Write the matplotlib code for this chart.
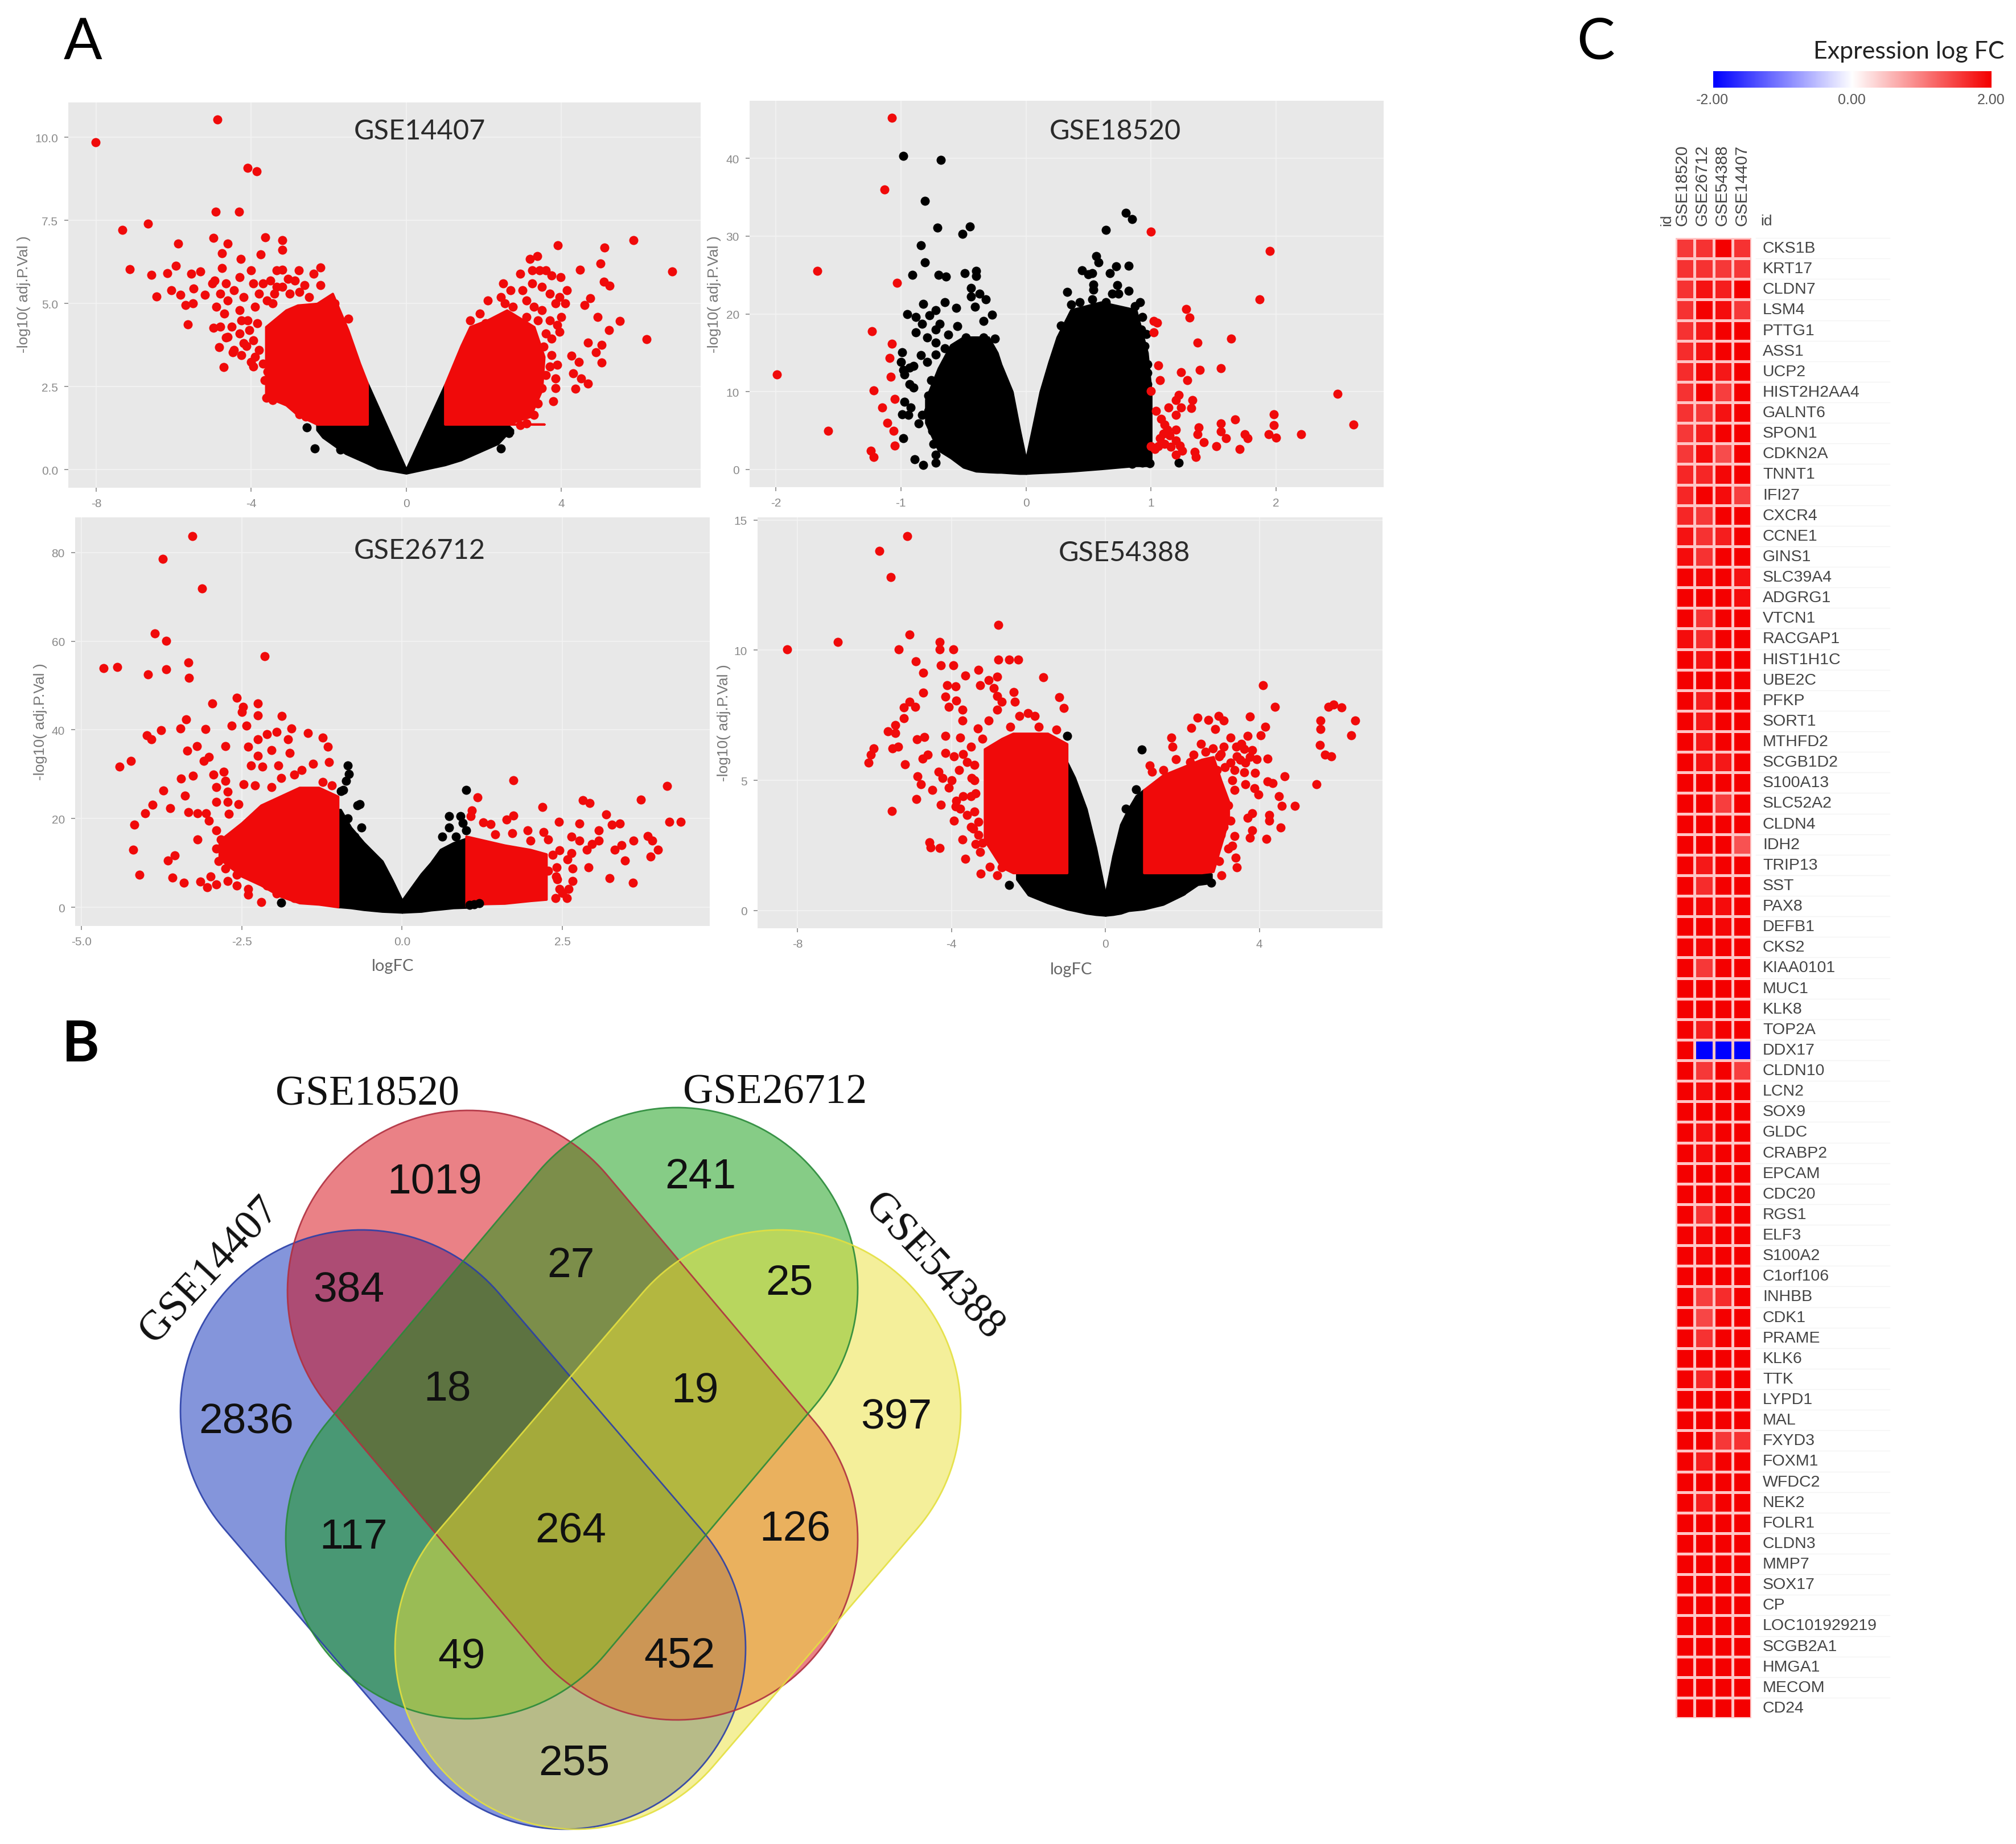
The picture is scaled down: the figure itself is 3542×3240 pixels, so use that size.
import numpy as np
import matplotlib
matplotlib.use('Agg')
import matplotlib.pyplot as plt
from matplotlib.colors import LinearSegmentedColormap
from matplotlib.patches import Polygon

W, H = 3542, 3241
DPI = 100
SANS = 'Liberation Sans'
SERIF = 'Liberation Serif'
HUM = 'Lato'

# ---------- Panel A data: (logFC, -log10 adj.P) ----------
gse14407_left_x = [-3.62, -3.1, -2.8, -2.3, -1.9, -1.5, -1.2, -1.0]
gse14407_left_hi = [4.3, 4.8, 4.95, 5.0, 5.3, 4.2, 3.2, 2.6]
gse14407_left_lo = [2.2, 1.95, 1.65, 1.37, 1.37, 1.37, 1.37, 1.37]
gse14407_right_x = [1.0, 1.42, 1.65, 2.1, 2.6, 3.3, 3.56, 3.5, 3.2, 2.6]
gse14407_right_hi = [2.55, 3.73, 4.3, 4.5, 4.8, 4.3, 3.4, 2.4, 1.6, 1.37]
gse14407_right_lo = [1.37] * 10
gse14407_black_x = [-2.3, -2.15, -1.56, -1.0, -0.73, 0, 1.0, 1.42, 2.37, 2.6, 2.75]
gse14407_black_hi = [1.37, 1.37, 1.37, 2.6, 1.9, 0, 2.55, 1.37, 1.37, 1.37, 1.2]
gse14407_black_lo = [1.2, 0.98, 0.49, 0.2, 0.05, -0.1, 0.15, 0.3, 0.79, 1.08, 1.1]
gse14407_black_pts = [(-2.57, 1.28), (-2.36, 0.64), (2.45, 0.64), (2.65, 1.1), (-1.7, 0.6)]
gse14407_red = [(-8.01, 9.85), (-4.87, 10.53), (-4.10, 9.08), (-3.86, 8.97), (-4.92, 7.76), (-4.31, 7.76),
    (-7.33, 7.22), (-6.67, 7.40), (-5.89, 6.80), (-4.98, 6.97), (-4.61, 6.81), (-3.64, 7.0), (-3.19, 6.91),
    (-3.19, 6.61), (-4.75, 6.51), (-3.75, 6.48), (-4.27, 6.34), (-7.13, 6.04), (-6.57, 5.87), (-5.95, 6.14),
    (-6.17, 5.91), (-5.55, 5.89), (-5.31, 5.97), (-4.75, 6.07), (-6.44, 5.21), (-6.06, 5.40), (-5.82, 5.26),
    (-5.69, 4.96), (-5.51, 5.01), (-5.63, 4.37), (-5.49, 5.45), (-4.98, 4.27), (-4.83, 3.68), (-4.65, 3.98),
    (-4.71, 3.09), (-4.48, 3.54), (-4.12, 3.73), (-4.0, 3.24), (-5.19, 5.26), (-4.95, 5.70), (-4.65, 5.6),
    (-4.30, 5.8), (-4.0, 6.0), (-3.35, 6.0), (-3.2, 6.01), (-2.77, 6.0), (-2.21, 6.09), (-2.39, 5.89),
    (-2.87, 5.7), (-3.7, 5.6), (-3.35, 5.5), (-2.63, 5.55), (-2.21, 5.55), (-3.61, 2.16), (-3.46, 2.46),
    (-3.58, 2.95), (-3.35, 2.75), (-3.1, 2.06), (-2.75, 1.67), (-5.0, 5.6), (-4.8, 5.3), (-4.6, 5.1),
    (-4.9, 4.9), (-4.7, 4.7), (-4.45, 5.4), (-4.2, 5.2), (-4.3, 4.8), (-4.1, 4.5), (-3.9, 4.9), (-3.8, 5.3),
    (-3.95, 5.6), (-4.5, 4.3), (-4.3, 4.1), (-4.05, 4.2), (-3.85, 4.4), (-4.2, 3.8), (-3.95, 3.9), (-3.8, 3.6),
    (-3.7, 3.2), (-3.6, 5.1), (-3.4, 5.3), (-3.2, 5.5), (-3.0, 5.3), (-3.45, 5.0), (-2.75, 5.35), (-2.5, 5.2),
    (-3.05, 5.75), (-3.5, 5.7), (-3.9, 3.4), (-4.8, 4.3), (-4.6, 4.0), (-4.25, 4.5), (-4.45, 3.6), (-4.25, 3.45),
    (-3.95, 3.1), (-3.65, 2.7), (-3.3, 2.4), (-3.0, 2.2), (-3.45, 2.1), (-2.85, 1.9), (-2.6, 1.6), (-1.85, 5.0),
    (-1.8, 4.6), (-1.7, 4.3), (-1.5, 4.55), (-1.55, 4.0),
    (3.92, 6.76), (5.86, 6.9), (5.12, 6.68), (6.87, 5.97), (5.01, 6.21), (4.49, 6.01), (5.11, 5.65), (5.25, 5.53),
    (5.52, 4.47), (6.2, 3.93), (5.23, 4.2), (4.94, 4.6), (4.75, 5.16), (4.61, 4.96), (5.05, 3.75), (4.69, 3.83),
    (4.89, 3.54), (5.05, 3.22), (4.27, 3.44), (4.45, 3.24), (4.31, 2.9), (4.51, 2.75), (4.69, 2.6), (4.37, 2.44),
    (3.86, 2.46), (3.8, 2.06), (4.15, 5.4), (3.98, 5.8), (3.38, 6.43), (3.2, 6.34), (1.65, 4.5), (1.7, 4.1),
    (1.9, 4.7), (2.1, 5.1), (2.05, 4.4), (2.5, 5.6), (2.45, 5.2), (2.55, 5.0), (2.7, 5.4), (2.75, 4.9), (2.95, 5.9),
    (3.0, 5.4), (3.1, 5.1), (3.25, 5.6), (3.25, 6.0), (3.45, 6.0), (3.6, 6.0), (3.75, 5.85), (3.5, 5.5), (3.3, 4.9),
    (3.5, 4.8), (3.7, 5.3), (3.85, 5.0), (3.95, 5.2), (4.0, 4.6), (3.9, 4.35), (3.95, 4.15), (3.7, 4.5), (3.6, 4.1),
    (3.75, 3.95), (3.55, 3.7), (3.75, 3.45), (3.9, 3.15), (3.7, 3.1), (3.85, 2.75), (3.6, 2.85), (3.5, 2.45),
    (3.4, 2.0), (3.3, 1.65), (3.1, 1.4), (2.95, 1.35), (3.4, 4.5), (3.1, 4.6), (2.8, 4.5), (4.1, 5.0)]

gse18520_left_x = [-0.80, -0.70, -0.60, -0.50, -0.40, -0.30, -0.23, -0.20, -0.11, -0.05, 0]
gse18520_left_hi = [9, 13, 16, 17, 17, 17, 15, 13.5, 10, 5, 1.2]
gse18520_left_lo = [6, 2.5, 1.5, 0.3, -0.2, -0.3, -0.35, -0.35, -0.45, -0.5, -0.5]
gse18520_right_x = [0, 0.05, 0.115, 0.185, 0.25, 0.36, 0.6, 0.88, 0.97, 1.0]
gse18520_right_hi = [1.2, 5, 10, 13.8, 17, 20.5, 21.5, 20.5, 15, 10]
gse18520_right_lo = [-0.5, -0.45, -0.4, -0.35, -0.3, -0.2, 0.1, 0.5, 0.5, 0.7]
gse18520_black_pts = [(-0.98, 40.3), (-0.68, 39.8), (-0.81, 34.5), (-0.71, 31.1), (-0.45, 31.2), (-0.51, 30.3),
    (-0.84, 28.8), (-0.81, 26.6), (-0.91, 25), (-0.70, 25), (-0.64, 24.8), (-0.49, 25.2), (-0.40, 25.5), (-0.40, 24.9),
    (-0.44, 23.3), (-0.44, 22.2), (-0.37, 22.6), (-0.32, 21.9), (-0.65, 21.5), (-0.82, 21.3), (-0.95, 20), (-0.72, 20.5),
    (-0.56, 20.8), (-0.41, 20.9), (-0.77, 19.8), (-0.88, 19.6), (-0.69, 18.7), (-0.55, 18.4), (-0.34, 19.1), (-0.27, 19.9),
    (-0.83, 18.7), (-0.88, 17.6), (-0.72, 18), (-0.79, 17), (-0.72, 16.3), (-0.25, 16.8), (-0.62, 17.3), (-0.48, 17),
    (-0.34, 17), (-0.99, 15.1), (-0.84, 14.7), (-0.79, 13.8), (-1.0, 13.8), (-0.93, 13.1), (-0.98, 12.8), (-0.9, 13.3),
    (-0.97, 12.2), (-0.76, 11.5), (-0.93, 11), (-0.9, 10.5), (-0.97, 8.7), (-0.92, 8), (-0.99, 7.1), (-0.94, 7),
    (-0.86, 5.9), (-0.83, 7), (-0.98, 4), (-0.89, 1.3), (-0.82, 0.6), (-0.72, 1.9), (-0.72, 0.9), (-0.63, 2.4),
    (-0.74, 3.3), (-0.78, 9.5), (-0.72, 14.8), (-0.65, 15.6), (-0.55, 15.8), (-0.78, 7.5), (-0.75, 5),
    (0.80, 33), (0.85, 32.2), (0.64, 30.8), (0.56, 27.4), (0.58, 26.6), (0.45, 25.6), (0.50, 25.1), (0.53, 25.2),
    (0.67, 25.2), (0.72, 26.1), (0.82, 26.2), (0.54, 23.8), (0.54, 23.1), (0.73, 23.7), (0.82, 23), (0.33, 22.8),
    (0.69, 22.6), (0.74, 22.6), (0.91, 21.5), (0.87, 21), (0.93, 19.6), (0.96, 17.4), (0.36, 21.2), (0.43, 21.5),
    (0.53, 21.9), (0.64, 21.5), (0.74, 20.5), (0.85, 19.8), (0.92, 18), (0.95, 15.9), (0.97, 13.5), (0.97, 12.4),
    (0.97, 11), (0.95, 8.2), (0.85, 0.7), (0.93, 0.9), (0.99, 0.8), (1.22, 0.9), (0.28, 18.5)]
gse18520_red = [(1.0, 30.6), (1.95, 28.1), (1.87, 21.9), (1.28, 20.6), (1.31, 19.5), (1.02, 19.1), (1.05, 18.9),
    (1.02, 17.6), (1.64, 16.8), (1.37, 16.3), (1.06, 13.4), (1.56, 13), (1.39, 12.8), (1.24, 12.5), (1.29, 11.5),
    (1.07, 11.5), (1.0, 10.1), (2.49, 9.7), (1.22, 9.6), (1.2, 8.9), (1.33, 8.9), (1.32, 7.9), (1.14, 8), (1.24, 8),
    (1.2, 7), (1.04, 7.5), (1.98, 7.1), (1.67, 6.4), (1.56, 5.9), (2.62, 5.8), (1.98, 5.7), (1.38, 5.4), (1.11, 5.8),
    (1.13, 5.1), (1.2, 5.1), (1.56, 4.9), (2.2, 4.5), (1.94, 4.5), (1.75, 4.5), (1.37, 4.5), (2.0, 4.1), (1.6, 4),
    (1.77, 4), (1.42, 3.5), (1.07, 4), (1.2, 3.7), (1.52, 3), (1.23, 3.1), (1.06, 3), (1.0, 3), (1.11, 3.3), (1.71, 2.6),
    (1.35, 2.3), (1.25, 2.4), (1.2, 1.9), (1.36, 1.6), (1.08, 6.5), (1.15, 4.4), (1.1, 4.6), (1.03, 2.6), (1.16, 2.9),
    (-1.07, 45.2), (-1.13, 36), (-1.67, 25.5), (-1.03, 24), (-1.23, 17.8), (-1.07, 16.2), (-1.09, 14.3), (-1.99, 12.2),
    (-1.08, 11.9), (-1.22, 10.2), (-1.05, 9.1), (-1.15, 8), (-1.11, 6), (-1.58, 5), (-1.06, 5), (-1.05, 3.1), (-1.24, 2.4),
    (-1.22, 1.6)]

gse26712_left_x = [-2.85, -2.5, -2.2, -1.9, -1.6, -1.3, -1.0]
gse26712_left_hi = [15, 19, 23, 25, 27, 27, 25]
gse26712_left_lo = [11, 7, 5, 2.5, 1, 0.7, 0.1]
gse26712_right_x = [1.0, 1.3, 1.6, 2.0, 2.25]
gse26712_right_hi = [16, 15, 14, 13, 12]
gse26712_right_lo = [0.3, 0.8, 0.9, 1.5, 1.8]
gse26712_black_lx = [-1.0, -0.96, -0.8, -0.6, -0.31, -0.15, 0]
gse26712_black_lhi = [22, 22, 18, 14.6, 10.4, 6, 1.5]
gse26712_black_llo = [0.1, 0.1, -0.1, -0.5, -0.9, -1, -1.1]
gse26712_black_rx = [0, 0.15, 0.3, 0.45, 0.6, 0.8, 1.0]
gse26712_black_rhi = [1.5, 4.5, 7.5, 10, 13, 14.5, 15.5]
gse26712_black_rlo = [-1.1, -1, -0.9, -0.6, -0.4, -0.1, 0]
gse26712_black_pts = [(-0.85, 32), (-0.83, 30), (-0.87, 28.5), (-0.92, 26.4), (-0.95, 26.2), (-0.7, 23), (-0.66, 23.2),
    (-0.63, 18), (-0.74, 16), (-0.85, 20), (1, 26.4), (0.73, 20.5), (0.91, 20.5), (0.73, 18), (0.63, 16), (0.84, 16),
    (1, 17.4), (0.95, 19), (1.05, 0.5), (1.12, 0.7), (1.2, 0.9), (-1.89, 1)]
gse26712_red = [(-3.27, 83.7), (-3.73, 78.5), (-3.12, 71.9), (-3.86, 61.7), (-3.68, 60.1), (-2.14, 56.6), (-4.66, 53.9),
    (-4.44, 54.2), (-3.33, 55.2), (-3.68, 53.6), (-3.96, 52.5), (-3.32, 51.7), (-2.96, 45.9), (-2.58, 47.3), (-2.25, 45.9),
    (-2.48, 45.2), (-2.5, 44), (-2.25, 43.3), (-1.88, 43.1), (-3.37, 42.3), (-3.46, 40.3), (-3.07, 40.2), (-3.76, 39.9),
    (-2.66, 41), (-2.43, 41), (-1.73, 40.3), (-1.47, 39.3), (-3.98, 38.8), (-3.91, 37.9), (-2.25, 37.9), (-2.11, 39),
    (-1.96, 39.5), (-1.78, 37.9), (-1.24, 38.3), (-1.16, 36.2), (-2.76, 36.3), (-3.2, 36.3), (-3.35, 35.3), (-4.23, 33),
    (-4.41, 31.7), (-3.01, 33.9), (-3.09, 33), (-2.4, 36.2), (-2.25, 34.1), (-2.36, 32), (-2.18, 31.7), (-2.04, 35.5),
    (-1.75, 34.8), (-1.93, 32), (-1.57, 31), (-1.39, 32.3), (-1.14, 32.7), (-3.45, 29), (-3.26, 29.7), (-2.94, 29.9),
    (-2.78, 30.6), (-2.76, 28.5), (-2.9, 27.1), (-2.72, 26.1), (-3.72, 26.3), (-3.39, 25.2), (-3.89, 23.1), (-3.62, 22.3),
    (-4.01, 21.2), (-3.33, 21.4), (-3.19, 21.2), (-3.06, 21.2), (-2.9, 23.7), (-2.72, 23.7), (-2.7, 21.1), (-2.55, 23.3),
    (-3.01, 19.5), (-4.18, 18.6), (-3.19, 15.3), (-4.19, 13), (-3.55, 11.7), (-3.65, 10.6), (-4.1, 7.3), (-3.58, 6.7),
    (-3.4, 5.6), (-3.15, 5.8), (-3.04, 4.5), (-2.99, 7), (-2.9, 5.2), (-2.2, 1.25), (-2.4, 2.8), (-2.47, 27.8),
    (-2.29, 27.5), (-2.04, 27.1), (-1.89, 29.2), (-1.68, 29.9), (-1.24, 28.2), (-1.1, 27.5), (-2.9, 17.4), (-2.83, 15.3),
    (-2.9, 13.2), (-2.86, 10.4), (-2.76, 8.7), (-2.72, 5.9), (-2.58, 7.3), (-2.58, 4.9), (-2.4, 4.2), (-2.14, 7),
    (-2.11, 4.9), (-1.96, 3.1), (-1.68, 2.1),
    (4.13, 27.3), (1.74, 28.7), (1.18, 24.8), (3.73, 24.3), (2.82, 24.1), (2.93, 23.5), (2.19, 22.6), (1.09, 21.9),
    (1.07, 20.5), (3.18, 20.9), (1.74, 20.7), (1.63, 19.8), (4.17, 19.3), (4.35, 19.3), (2.45, 19.3), (2.77, 18.9),
    (3.4, 18.9), (3.27, 18.6), (1.27, 19.1), (1.38, 18.8), (3.07, 17.3), (1.72, 16.7), (1.96, 17.4), (2.21, 17), (2.64, 16),
    (3.83, 16.1), (2.77, 15), (3.61, 15), (3.9, 15), (3.07, 15), (2.96, 14.3), (3.42, 14), (3.32, 13), (2.88, 13), (3.99, 13),
    (2.46, 12.9), (2.64, 12.2), (3.88, 11.5), (3.48, 10.6), (2.58, 10.8), (2.91, 9), (2.66, 8.7), (2.41, 9), (3.24, 6.6),
    (3.6, 5.6), (2.66, 5.9), (2.42, 6.3), (2.6, 4.2), (2.39, 2.1), (2.57, 2.1), (2.46, 4.2), (2.28, 8.3), (2.35, 11.8),
    (2.28, 15.3), (1.45, 16.5), (2.0, 15), (2.4, 7), (2.5, 3.2)]

gse54388_left_x = [-3.14, -2.69, -2.4, -1.9, -1.5, -1.0]
gse54388_left_hi = [6.2, 6.6, 6.8, 6.8, 6.8, 6.4]
gse54388_left_lo = [2.7, 1.66, 1.45, 1.45, 1.45, 1.45]
gse54388_right_x = [1.0, 1.5, 2.0, 2.5, 2.8, 3.0, 3.2]
gse54388_right_hi = [4.63, 5.2, 5.5, 5.8, 5.9, 5.0, 4.2]
gse54388_right_lo = [1.45, 1.45, 1.45, 1.45, 1.5, 2.5, 3.5]
gse54388_black_lx = [-2.3, -2.0, -1.5, -1.0, -0.8, -0.5, -0.25, 0]
gse54388_black_lhi = [1.45, 1.45, 1.45, 5.7, 5.1, 3.9, 2.4, 0.6]
gse54388_black_llo = [1.2, 0.6, 0.3, 0.06, 0.0, -0.1, -0.15, -0.18]
gse54388_black_rx = [0, 0.2, 0.4, 0.6, 0.8, 1.0, 1.5, 2.0, 2.4, 2.75]
gse54388_black_rhi = [0.6, 2.1, 3.3, 3.9, 4.4, 4.63, 1.45, 1.45, 1.45, 1.4]
gse54388_black_rlo = [-0.18, -0.15, -0.1, 0, 0.03, 0.06, 0.24, 0.6, 1.0, 1.07]
gse54388_black_pts = [(-2.5, 0.98), (0.95, 6.19), (0.79, 4.65), (0.53, 3.91), (-1.0, 6.7), (2.75, 1.07), (2.0, 0.75)]
gse54388_red = [(-5.15, 14.38), (-5.88, 13.8), (-5.58, 12.81), (-2.78, 10.97), (-5.09, 10.59), (-6.96, 10.32), (-8.27, 10.04),
    (-5.37, 10.02), (-4.31, 10.32), (-4.31, 10.02), (-3.95, 10.02), (-4.93, 9.58), (-2.78, 9.64), (-2.5, 9.64), (-2.27, 9.64),
    (-4.28, 9.41), (-3.95, 9.41), (-3.3, 9.25), (-4.74, 9.13), (-3.64, 9.02), (-2.81, 8.99), (-1.62, 8.96), (-3.03, 8.84),
    (-3.26, 8.66), (-4.11, 8.66), (-3.9, 8.6), (-2.9, 8.54), (-4.73, 8.36), (-2.38, 8.4), (-2.81, 8.24), (-4.16, 8.22),
    (-3.88, 8.07), (-1.2, 8.19), (-2.69, 8.01), (-2.35, 8.01), (-5.09, 8.01), (-5.24, 7.81), (-4.95, 7.83), (-4.07, 7.83),
    (-1.09, 7.77), (-3.71, 7.71), (-2.81, 7.71), (-2.01, 7.59), (-2.24, 7.47), (-1.84, 7.47), (-5.24, 7.38), (-3.71, 7.3),
    (-3.03, 7.3), (-5.46, 7.12), (-5.66, 6.88), (-5.46, 6.82), (-3.31, 7), (-2.47, 7.06), (-1.73, 7.06), (-1.28, 6.94),
    (-4.16, 6.7), (-3.77, 6.64), (-4.9, 6.58), (-4.71, 6.67), (-6.03, 6.23), (-5.54, 6.23), (-5.38, 6.29), (-6.09, 5.99),
    (-6.16, 5.67), (-4.16, 6.05), (-4.62, 5.99), (-4.75, 5.84), (-3.94, 5.93), (-5.21, 5.61), (-4.33, 5.34), (-4.88, 5.16),
    (-4.79, 4.86), (-4.24, 5.1), (-4.5, 4.63), (-4.07, 4.72), (-4.91, 4.29), (-5.55, 3.83), (-4.28, 4.06), (-3.88, 4.21),
    (-3.77, 3.91), (-3.94, 3.44), (-3.43, 3.14), (-4.58, 2.61), (-4.54, 2.43), (-4.31, 2.41), (-3.71, 2.73), (-3.37, 2.55),
    (-3.64, 1.99), (-3.24, 1.42), (-3.01, 1.68), (-2.81, 1.36), (-3.26, 2.25), (-2.69, 1.66), (-3.6, 5.7), (-3.48, 5.1),
    (-3.37, 4.5), (-3.6, 3.68), (-3.5, 6.3), (-3.4, 5.6), (-3.2, 6.6), (-3.4, 5), (-3.5, 4.4), (-3.4, 3.8), (-3.3, 3.4),
    (-3.5, 3.2), (-3.7, 4.4), (-3.9, 4), (-4, 5), (-3.8, 5.4), (-3.3, 2.9), (-3.7, 6.0), (-3.2, 2.6),
    (4.1, 8.66), (4.41, 7.83), (3.76, 7.45), (2.4, 7.41), (2.68, 7.33), (2.94, 7.47), (3.08, 7.3), (2.23, 7.02), (2.85, 6.98),
    (4.15, 7.06), (4.04, 6.74), (1.72, 6.64), (1.74, 6.29), (2.48, 6.41), (3.25, 6.64), (3.7, 6.7), (3.53, 6.41), (2.79, 6.23),
    (3.08, 6.29), (3.81, 6.17), (3.93, 5.81), (4.21, 5.84), (3.42, 5.93), (3.64, 5.69), (3.25, 5.69), (2.96, 5.93), (2.29, 5.99),
    (1.15, 5.58), (1.21, 5.34), (1.83, 5.81), (3.89, 5.28), (4.66, 5.16), (4.21, 4.96), (4.34, 4.9), (3.64, 4.86), (3.36, 4.63),
    (3.87, 4.69), (3.98, 4.45), (3.02, 4.51), (4.51, 4.39), (4.58, 4.01), (4.92, 4.01), (3.19, 4.03), (3.81, 3.74), (4.26, 3.68),
    (4.26, 3.44), (3.25, 3.44), (3.7, 3.56), (3.08, 3.2), (4.55, 3.18), (3.81, 3.08), (3.76, 2.79), (3.36, 2.85), (4.19, 2.76),
    (3.3, 2.49), (3.19, 2.37), (3.39, 2.02), (3.42, 1.66), (2.96, 1.9), (3.02, 1.36), (3.4, 6.3), (3.6, 6.2), (3.75, 5.9),
    (3.5, 5.8), (3.35, 5.4), (3.1, 5.5), (2.9, 5.4), (3.0, 6.0), (3.6, 5.3), (2.6, 6.1), (2.2, 5.7), (1.5, 5.4), (3.3, 5.0),
    (3.1, 3.7), (3.0, 2.9),
    (5.79, 7.83), (5.93, 7.92), (6.13, 7.81), (6.49, 7.3), (6.39, 6.74), (5.59, 7.3), (5.59, 6.98), (5.57, 6.35), (5.71, 5.99),
    (5.87, 5.93), (5.49, 4.86)]

# ---------- Panel B data ----------
venn_sets = ['GSE14407', 'GSE18520', 'GSE26712', 'GSE54388']
venn_counts = [1019, 241, 384, 27, 25, 2836, 18, 19, 397, 117, 264, 126, 49, 452, 255]

# ---------- Panel C data ----------
heat_columns = ['GSE18520', 'GSE26712', 'GSE54388', 'GSE14407']
heat_genes = ['CKS1B', 'KRT17', 'CLDN7', 'LSM4', 'PTTG1', 'ASS1', 'UCP2', 'HIST2H2AA4', 'GALNT6', 'SPON1', 'CDKN2A', 'TNNT1',
    'IFI27', 'CXCR4', 'CCNE1', 'GINS1', 'SLC39A4', 'ADGRG1', 'VTCN1', 'RACGAP1', 'HIST1H1C', 'UBE2C', 'PFKP', 'SORT1', 'MTHFD2',
    'SCGB1D2', 'S100A13', 'SLC52A2', 'CLDN4', 'IDH2', 'TRIP13', 'SST', 'PAX8', 'DEFB1', 'CKS2', 'KIAA0101', 'MUC1', 'KLK8', 'TOP2A',
    'DDX17', 'CLDN10', 'LCN2', 'SOX9', 'GLDC', 'CRABP2', 'EPCAM', 'CDC20', 'RGS1', 'ELF3', 'S100A2', 'C1orf106', 'INHBB', 'CDK1',
    'PRAME', 'KLK6', 'TTK', 'LYPD1', 'MAL', 'FXYD3', 'FOXM1', 'WFDC2', 'NEK2', 'FOLR1', 'CLDN3', 'MMP7', 'SOX17', 'CP',
    'LOC101929219', 'SCGB2A1', 'HMGA1', 'MECOM', 'CD24']
heat_gse18520 = [1.55, 1.6, 1.6, 1.6, 1.6, 1.65, 1.65, 1.6, 1.6, 1.55, 1.55, 1.7, 1.7, 1.7, 1.85, 1.9, 2, 2, 2, 1.9] + [2] * 52
heat_gse26712 = [1.6, 1.6, 1.85, 2, 1.8, 1.85, 1.95, 2, 1.55, 1.75, 1.9, 1.7, 2, 1.55, 1.6, 1.6, 1.95, 2, 1.6, 1.65, 1.85, 2, 1.75,
    1.8, 1.8, 1.85, 2, 2, 2, 2, 1.8, 1.65, 1.95, 2, 1.95, 1.55, 2, 2, 1.75, -2, 1.55, 1.9, 2, 1.85, 1.9, 2, 2, 1.6, 1.95, 1.95, 2,
    1.5, 1.45, 1.6, 2, 1.7, 2, 2, 2, 1.75, 2, 1.75, 2, 2, 2, 2, 2, 2, 2, 2, 2, 2]
heat_gse54388 = [2, 1.55, 1.75, 1.9, 2, 2, 1.8, 1.5, 1.85, 2, 1.4, 1.95, 1.9, 2, 1.75, 2, 2, 2, 2, 2, 2, 2, 2, 2, 2, 1.8, 2, 1.5, 2, 2,
    2, 2, 1.9, 1.95, 2, 2, 2, 2, 2, -2, 2, 2, 2, 2, 2, 2, 2, 2, 2, 2, 2, 1.65, 2, 2, 2, 2, 2, 2, 1.55, 2, 2, 2, 2, 2, 2, 2, 2, 2, 2, 2, 2, 2]
heat_gse14407 = [1.6, 1.55, 2, 1.55, 2, 2, 2, 2, 2, 2, 2, 2, 1.5, 2, 2, 2, 1.85, 1.9, 2, 2, 2, 2, 2, 2, 2, 2, 2, 2, 2, 1.35, 2, 2, 2, 2, 2,
    2, 2, 2, 2, -2, 1.5, 2, 2, 2, 2, 2, 2, 2, 2, 2, 2, 2, 2, 2, 2, 2, 2, 2, 1.6, 2, 2, 2, 2, 2, 2, 2, 2, 2, 2, 2, 2, 2]

# ---------- helpers ----------
fig = plt.figure(figsize=(W / DPI, H / DPI), dpi=DPI, facecolor='white')
RED, BLACK = '#F00A0A', '#000000'
MS = (16 * 72 / DPI) ** 2
GRAY = '#7d7d7d'


def axes_px(l, t, r, b, **kw):
    return fig.add_axes([l / W, 1 - b / H, (r - l) / W, (b - t) / H], **kw)


def volcano(box, xlim, ylim, xticks, yticks, xfmt, yfmt):
    ax = axes_px(*box, facecolor='#E8E8E8')
    ax.set_xlim(*xlim)
    ax.set_ylim(*ylim)
    ax.set_xticks(xticks)
    ax.set_xticklabels([xfmt.format(v) for v in xticks], family=SANS)
    ax.set_yticks(yticks)
    ax.set_yticklabels([yfmt.format(v) for v in yticks], family=SANS)
    ax.tick_params(labelsize=15, colors='#8a8a8a', length=5, width=1.2, pad=8)
    for s in ax.spines.values():
        s.set_visible(False)
    ax.grid(True, color='#F3F3F3', lw=1.2, zorder=0)
    ax.set_axisbelow(True)
    return ax


def band(ax, x, lo, hi, color):
    ax.fill_between(x, lo, hi, color=color, lw=3, zorder=2)


def pts(ax, arr, color, z=3):
    a = np.array(arr, dtype=float)
    ax.scatter(a[:, 0], a[:, 1], s=MS, c=color, linewidths=0, zorder=z)


# ---------- Panel A ----------
a1 = volcano((120, 181, 1231, 858), (-8.72, 7.6), (-0.54, 11.05), [-8, -4, 0, 4], [0, 2.5, 5, 7.5, 10], '{:d}', '{:.1f}')
band(a1, gse14407_black_x, gse14407_black_lo, gse14407_black_hi, BLACK)
pts(a1, gse14407_black_pts, BLACK)
band(a1, gse14407_left_x, gse14407_left_lo, gse14407_left_hi, RED)
band(a1, gse14407_right_x, gse14407_right_lo, gse14407_right_hi, RED)
pts(a1, gse14407_red, RED)

a2 = volcano((1317, 178, 2431, 857), (-2.21, 2.86), (-2.27, 47.4), [-2, -1, 0, 1, 2], [0, 10, 20, 30, 40], '{:d}', '{:d}')
band(a2, gse18520_left_x, gse18520_left_lo, gse18520_left_hi, BLACK)
band(a2, gse18520_right_x, gse18520_right_lo, gse18520_right_hi, BLACK)
pts(a2, gse18520_black_pts, BLACK)
pts(a2, gse18520_red, RED)

a3 = volcano((132, 910, 1247, 1628), (-5.1, 4.8), (-4.2, 87.9), [-5, -2.5, 0, 2.5], [0, 20, 40, 60, 80], '{:.1f}', '{:d}')
band(a3, gse26712_black_lx, gse26712_black_llo, gse26712_black_lhi, BLACK)
band(a3, gse26712_black_rx, gse26712_black_rlo, gse26712_black_rhi, BLACK)
pts(a3, gse26712_black_pts, BLACK)
band(a3, gse26712_left_x, gse26712_left_lo, gse26712_left_hi, RED)
band(a3, gse26712_right_x, gse26712_right_lo, gse26712_right_hi, RED)
pts(a3, gse26712_red, RED)

a4 = volcano((1331, 910, 2429, 1632), (-9.04, 7.2), (-0.68, 15.1), [-8, -4, 0, 4], [0, 5, 10, 15], '{:d}', '{:d}')
band(a4, gse54388_black_lx, gse54388_black_llo, gse54388_black_lhi, BLACK)
band(a4, gse54388_black_rx, gse54388_black_rlo, gse54388_black_rhi, BLACK)
pts(a4, gse54388_black_pts, BLACK)
band(a4, gse54388_left_x, gse54388_left_lo, gse54388_left_hi, RED)
band(a4, gse54388_right_x, gse54388_right_lo, gse54388_right_hi, RED)
pts(a4, gse54388_red, RED)

# ---------- overlay in pixel coordinates ----------
ov = fig.add_axes([0, 0, 1, 1], facecolor='none')
ov.set_xlim(0, W)
ov.set_ylim(H, 0)
ov.axis('off')
ov.set_zorder(5)


def T(x, y, s, size, family=HUM, color='black', rot=0, **kw):
    ov.text(x, y, s, fontsize=size, family=family, color=color, rotation=rot, ha=kw.pop('ha', 'center'),
            va=kw.pop('va', 'center'), rotation_mode='anchor', **kw)


for (x, y, s) in [(737, 231, 'GSE14407'), (1959, 231, 'GSE18520'), (737, 968, 'GSE26712'), (1975, 972, 'GSE54388')]:
    T(x, y, s, 35, color='#2a2a2a')
for (x, y) in [(42, 517), (1255, 517), (71, 1268), (1272, 1270)]:
    T(x, y, '-log10( adj.P.Val )', 19, family=SANS, color='#777777', rot=90)
T(690, 1698, 'logFC', 21, color='#666666')
T(1882, 1704, 'logFC', 21, color='#666666')
T(146, 75, 'A', 72)
T(142, 1837, 'B', 72, fontweight='bold')
T(2804, 75, 'C', 72)


# ---------- Panel B: Venn ----------
def pill(c1, c2, r):
    c1, c2 = np.array(c1, float), np.array(c2, float)
    ang = np.arctan2(*(c2 - c1)[::-1])
    t1 = np.linspace(ang + np.pi / 2, ang + 3 * np.pi / 2, 90)
    t2 = np.linspace(ang - np.pi / 2, ang + np.pi / 2, 90)
    return np.vstack([c1 + r * np.c_[np.cos(t1), np.sin(t1)], c2 + r * np.c_[np.cos(t2), np.sin(t2)]])


venn_shapes = [((635, 2480), (992, 2897), '#0B2DB9', '#2A3FA8'), ((823, 2270), (1189, 2705), '#D7050F', '#B03040'),
               ((1189, 2265), (820, 2703), '#0F9B0F', '#2A8A3A'), ((1370, 2480), (1012, 2897), '#EBE137', '#E4E040')]
for c1, c2, fc, ec in venn_shapes:
    ov.add_patch(Polygon(pill(c1, c2, 318), closed=True, facecolor=fc, alpha=0.5, edgecolor='none', zorder=2))
    ov.add_patch(Polygon(pill(c1, c2, 318), closed=True, fill=False, edgecolor=ec, lw=2, alpha=0.9, zorder=2.5))

venn_xy = [(764, 2078), (1231, 2069), (613, 2267), (1003, 2225), (1387, 2255), (433, 2498), (786, 2441), (1221, 2445),
           (1575, 2491), (621, 2702), (1003, 2691), (1397, 2688), (811, 2912), (1194, 2910), (1009, 3099)]
for (x, y), n in zip(venn_xy, venn_counts):
    T(x, y, str(n), 54, family=SANS, color='#111111', zorder=4)
T(369, 2232, venn_sets[0], 53, family=SERIF, rot=47, color='#111111')
T(645, 1924, venn_sets[1], 53, family=SERIF, color='#111111')
T(1362, 1921, venn_sets[2], 53, family=SERIF, color='#111111')
T(1639, 2227, venn_sets[3], 53, family=SERIF, rot=-47, color='#111111')

# ---------- Panel C: heat map ----------
cmap = LinearSegmentedColormap.from_list('bwr2', ['#0000FF', '#FFFFFF', '#F40000'])
heat_left, heat_right, heat_top, heat_bottom = 2944, 3077, 419, 3020
ah = axes_px(heat_left, heat_top, heat_right, heat_bottom)
matrix = np.array([heat_gse18520, heat_gse26712, heat_gse54388, heat_gse14407], dtype=float).T
ah.pcolormesh(matrix, cmap=cmap, vmin=-2, vmax=2, edgecolors='#FFC4C4', linewidth=2.2)
ah.set_ylim(len(heat_genes), 0)
ah.axis('off')
row_h = (heat_bottom - heat_top) / len(heat_genes)
for i, g in enumerate(heat_genes):
    T(3097, heat_top + (i + 0.5) * row_h, g, 20.5, family=SANS, color='#444444', ha='left')
    ov.plot([3085, 3320], [heat_top + i * row_h] * 2, color='#F4F4F4', lw=1, zorder=0)
for x, c in zip([2956, 2991, 3026, 3061], heat_columns):
    T(x, 397, c, 21, family=SANS, color='#444444', rot=90, ha='left')
T(2928, 397, 'id', 19, family=SANS, color='#444444', rot=90, ha='left')
T(3104, 389, 'id', 19, family=SANS, color='#444444')

# colour bar
acb = axes_px(3010, 126, 3499, 155)
acb.imshow(np.linspace(-2, 2, 256)[None, :], aspect='auto', cmap=cmap, vmin=-2, vmax=2)
acb.axis('off')
for x, s in [(3008, '-2.00'), (3253, '0.00'), (3498, '2.00')]:
    T(x, 176, s, 18, family=SANS, color='#555555')
T(3522, 91, 'Expression log FC', 31, color='#222222', ha='right')

fig.savefig('out.png', dpi=DPI, facecolor='white')
